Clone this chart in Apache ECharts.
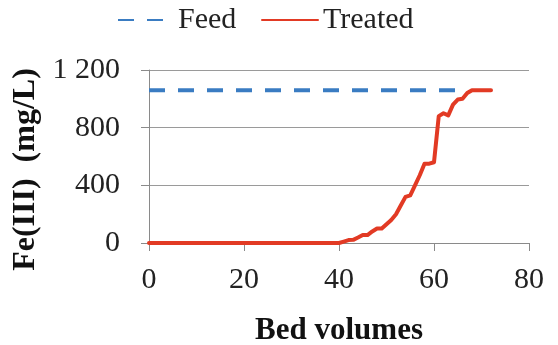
<!DOCTYPE html>
<html>
<head>
<meta charset="utf-8">
<script src="https://cdn.jsdelivr.net/npm/echarts@6/dist/echarts.min.js"></script>
<style>
  html, body { margin: 0; padding: 0; background: #fff; }
  #chart { width: 558px; height: 345px; }
</style>
</head>
<body>
<div id="chart"></div>
<script>
// Fe(III) breakthrough data
const bedVolumes = [0, 10, 20, 30, 40, 41, 42, 43, 44, 45, 46, 47, 48, 49, 50, 51, 52, 53, 54, 55, 56,
  57, 58, 59, 60, 61, 62, 63, 64, 65, 66, 67, 68, 70, 72];
const treatedFe = [0, 0, 0, 0, 0, 10, 20, 22, 38, 55, 55, 80, 100, 100, 130, 160, 200, 260, 320, 330, 400,
  470, 550, 550, 560, 880, 900, 885, 960, 995, 1000, 1040, 1060, 1060, 1060];
const feedBedVolumes = [0, 67];
const feedFe = [1060, 1060];
const xTicks = [0, 20, 40, 60, 80];
const yTicks = [0, 400, 800, 1200];

const serif = '"Liberation Serif", "Times New Roman", serif';
const chart = echarts.init(document.getElementById('chart'));

function pairs(xs, ys) {
  return xs.map((x, i) => [x, ys[i]]);
}

chart.setOption({
  animation: false,
  grid: { left: 149, right: 29, top: 70, bottom: 102, outerBoundsMode: 'none', containLabel: false },
  legend: [{
    data: ['Feed'],
    left: 112, top: 0,
    itemWidth: 46, itemHeight: 14,
    itemStyle: { opacity: 0 },
    textStyle: { fontFamily: serif, fontSize: 30, color: '#222', padding: [0, 0, 0, 9] }
  }, {
    data: ['Treated'],
    left: 256, top: 0,
    itemWidth: 56, itemHeight: 14,
    itemStyle: { opacity: 0 },
    textStyle: { fontFamily: serif, fontSize: 30, color: '#222' }
  }],
  xAxis: {
    type: 'value',
    min: xTicks[0],
    max: xTicks[xTicks.length - 1],
    interval: 20,
    name: 'Bed volumes',
    nameLocation: 'middle',
    nameGap: 72,
    nameTextStyle: { fontFamily: serif, fontSize: 31, fontWeight: 'bold', color: '#111' },
    axisLine: { lineStyle: { color: '#8a8a8a', width: 1 } },
    axisTick: { show: true, length: 8, lineStyle: { color: '#8a8a8a' } },
    axisLabel: { margin: 22, fontFamily: serif, fontSize: 30, color: '#222' },
    splitLine: { show: false }
  },
  yAxis: {
    type: 'value',
    min: yTicks[0],
    max: yTicks[yTicks.length - 1],
    interval: 400,
    name: 'Fe(III)  (mg/L)',
    nameLocation: 'middle',
    nameRotate: 90,
    nameGap: 99,
    nameTextStyle: { fontFamily: serif, fontSize: 32, fontWeight: 'bold', color: '#111', padding: [0, 26, 0, 0] },
    axisLine: { show: true, lineStyle: { color: '#8a8a8a', width: 1 } },
    axisTick: { show: true, length: 8, lineStyle: { color: '#8a8a8a' } },
    axisLabel: {
      margin: 29, fontFamily: serif, fontSize: 30, color: '#222',
      formatter: v => v >= 1000 ? String(v).replace(/(\d)(\d{3})$/, '$1 $2') : String(v)
    },
    splitLine: { lineStyle: { color: '#9a9a9a', width: 1 } }
  },
  series: [{
    name: 'Feed',
    type: 'line',
    symbol: 'none',
    data: pairs(feedBedVolumes, feedFe),
    lineStyle: { color: '#3a7cc2', width: 4, type: [16, 13] },
    itemStyle: { color: '#3a7cc2' },
    z: 2
  }, {
    name: 'Treated',
    type: 'line',
    symbol: 'none',
    data: pairs(bedVolumes, treatedFe),
    lineStyle: { color: '#e23a24', width: 4, join: 'round', cap: 'round' },
    itemStyle: { color: '#e23a24' },
    z: 3
  }]
});
</script>
</body>
</html>
